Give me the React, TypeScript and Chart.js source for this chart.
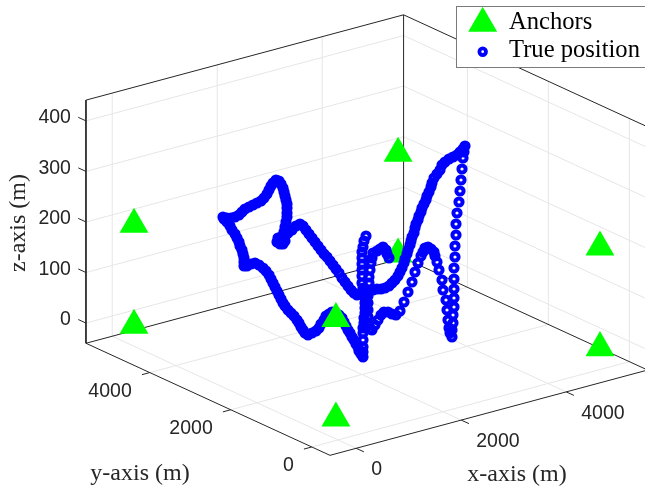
import { useEffect, useRef } from "react";
import { Chart, registerables } from "chart.js";

Chart.register(...registerables);

// Axis limits and ticks (metres)
const xLimits = [-500, 5550];
const yLimits = [-450, 5575];
const zLimits = [-40, 441];
const xTicks = [0, 2000, 4000];
const yTicks = [0, 2000, 4000];
const zTicks = [0, 100, 200, 300, 400];

// Anchors in metres
const anchorX = [-40, -40, 4990, 4990, 4990, 4990, -40, -40];
const anchorY = [4985, 4985, 4985, 4985, 0, 0, 0, 0];
const anchorZ = [204, 4, 204, 5, 202, 3, 4, 201];
const anchorBehindPath = 3;

const legendLabels = ["Anchors", "True position"];
const axisTitles = ["x-axis (m)", "y-axis (m)", "z-axis (m)"];

// True position, on the chart's view-plane scales
const truePosition: [number, number][] = [
  [278,238],[281,237],[284,238],[285,241],[283,244],[280,244],[277,242],[281,241],[279,240],[282,239],[280,242],[283,241],
  [285,236],[288,233],[292,230],[296,226],[300,224],[303,226],[306,230],[309,234],[312,238],[315,242],
  [318,246],[321,250],[324,254],[327,257],[330,261],[333,265],[336,269],[339,273],[342,278],[345,282],
  [348,286],[351,290],[354,293],[357,295],[361,294],[365,292],[369,291],[373,290],[377,289],[381,289],
  [385,288],[389,286],[392,283],[395,280],[398,276],[400,272],[402,268],[404,263],[405,259],[407,254],
  [408,250],[410,245],[411,241],[412,237],[414,233],[415,228],[416,224],[418,220],[419,216],[421,212],
  [422,208],[424,204],[426,200],[427,196],[429,192],[431,187],[432,183],[434,178],[437,174],[440,170],
  [442,165],[445,162],[449,159],[453,157],[457,155],[460,152],[463,149],[465,146],
  [464,152],[463,158],[462,169],[461,180],[460,191],[459,202],[457,213],[456,224],[456,235],[455,246],
  [455,257],[454,268],[454,279],[454,289],[454,298],[454,307],[453,315],[453,323],[452,330],[452,337],
  [450,333],[449,328],[448,320],[447,310],[446,300],[443,290],[442,280],[439,270],[437,262],[435,256],
  [434,252],[431,249],[428,247],[425,248],[423,252],[421,256],[418,263],[415,272],[412,282],[408,292],
  [404,302],[400,311],[396,315],[392,314],[388,312],[384,312],[381,315],[378,320],[375,325],[372,330],
  [370,329],[369,325],[368,317],[368,310],[368,303],[368,296],[368,290],[369,283],[369,277],[370,270],
  [371,263],[372,258],[373,253],[377,251],[380,249],[383,247],[386,250],[387,254],[389,258],
  [366,236],[364,241],[363,247],[362,252],[362,258],[362,264],[362,270],[362,276],[362,283],[363,288],
  [364,293],[365,298],[365,303],[365,308],[365,313],[364,318],[364,323],[363,328],[363,333],[363,340],
  [363,347],[363,352],[363,357],
  [361,354],[359,351],[358,347],[356,344],[354,340],[352,337],[350,333],[348,330],[346,326],[344,322],
  [342,318],[339,315],[336,313],[332,312],[329,314],[326,316],[324,320],[321,324],[319,328],[316,331],
  [312,333],[308,335],[305,333],[303,330],[301,327],[299,323],[297,320],[294,316],[291,313],[288,310],
  [285,306],[283,303],[281,299],[279,295],[277,291],[275,287],[273,283],[271,279],[269,275],[266,271],
  [263,268],[259,265],[255,263],[251,264],[247,266],[244,266],[244,262],[244,258],[243,254],[242,250],
  [240,246],[239,242],[237,238],[235,234],[232,230],[230,226],[227,222],[224,219],[223,217],[227,218],
  [231,218],[235,217],[239,215],[242,212],[245,209],[249,207],[253,205],[257,203],[261,201],[264,198],
  [267,194],[269,190],[271,186],[273,183],[276,180],[279,181],[281,184],[283,188],[284,192],[285,196],
  [286,200],[287,204],[287,208],[287,213],[287,217],[286,222],[285,227],[284,232],
];

const project = (x: number, y: number, z: number) => ({
  x: 338 + 0.0525 * x - 0.0405 * y,
  y: 419.7 - 0.0141 * x - 0.0186 * y - 0.5055 * z,
});

const GAP = { x: NaN, y: NaN };
const [x0, x1] = xLimits;
const [y0, y1] = yLimits;
const [z0, z1] = zLimits;

const gridPoints = [
  ...xTicks.flatMap((t) => [project(t, y0, z0), project(t, y1, z0), project(t, y1, z1), GAP]),
  ...yTicks.flatMap((t) => [project(x0, t, z0), project(x1, t, z0), project(x1, t, z1), GAP]),
  ...zTicks.flatMap((t) => [project(x0, y1, t), project(x1, y1, t), project(x1, y0, t), GAP]),
];

const boxPoints = [
  project(x0, y1, z1), project(x0, y1, z0), project(x0, y0, z0), project(x1, y0, z0), project(x1, y1, z0),
  project(x0, y1, z0), GAP,
  project(x1, y1, z0), project(x1, y1, z1), project(x0, y1, z1), GAP,
  project(x1, y1, z1), project(x1, y0, z1), GAP,
];

const tickPoints = [
  ...xTicks.flatMap((t) => [project(t, y0, z0), project(t, y0 - 190, z0), GAP]),
  ...yTicks.flatMap((t) => [project(x0, t, z0), project(x0 - 150, t, z0), GAP]),
  ...zTicks.flatMap((t) => [project(x0, y1, t), project(x0, y1 + 190, t), GAP]),
];

const anchorPoints = anchorX.map((x, i) => project(x, anchorY[i], anchorZ[i]));

const SANS = '"Liberation Sans", Arial, sans-serif';
const SERIF = '"Liberation Serif", "Times New Roman", serif';
const INK = "#262626";

const textPlugin = {
  id: "oblique-text",
  afterDatasetsDraw(chart: Chart) {
    const c = chart.ctx;
    c.save();
    c.fillStyle = INK;
    c.textBaseline = "middle";
    c.font = `19.5px ${SANS}`;
    c.textAlign = "left";
    xTicks.forEach((t) => {
      const p = project(t, y0, z0);
      c.fillText(String(t), p.x + 15, p.y + 21.5);
    });
    c.textAlign = "right";
    yTicks.forEach((t) => {
      const p = project(x0, t, z0);
      c.fillText(String(t), p.x - 18, p.y + 19);
    });
    zTicks.forEach((t) => {
      const p = project(x0, y1, t);
      c.fillText(String(t), p.x - 15, p.y - 3);
    });

    c.font = `24px ${SERIF}`;
    c.textAlign = "center";
    c.fillText(axisTitles[0], 517, 475);
    c.fillText(axisTitles[1], 140, 474);
    c.save();
    c.translate(19, 223);
    c.rotate(-Math.PI / 2);
    c.fillText(axisTitles[2], 0, 0);
    c.restore();

    // legend box
    c.fillStyle = "#ffffff";
    c.strokeStyle = "#7a7a7a";
    c.lineWidth = 1;
    c.fillRect(456.5, 6.5, 200, 61);
    c.strokeRect(456.5, 6.5, 200, 61);
    c.fillStyle = "#00ff00";
    c.beginPath();
    c.moveTo(482.7, 6.7);
    c.lineTo(497.2, 31.7);
    c.lineTo(468.2, 31.7);
    c.closePath();
    c.fill();
    c.strokeStyle = "#0000ff";
    c.lineWidth = 3.8;
    c.beginPath();
    c.arc(482.7, 51.7, 3.3, 0, Math.PI * 2);
    c.stroke();
    c.fillStyle = "#000000";
    c.font = `24.6px ${SERIF}`;
    c.textAlign = "left";
    c.fillText(legendLabels[0], 509, 22.5);
    c.fillText(legendLabels[1], 509, 51);
    c.restore();
  },
};

export default function App() {
  const ref = useRef<HTMLCanvasElement>(null);
  useEffect(() => {
    document.body.style.margin = "0";
    const triangle = {
      pointStyle: "triangle",
      pointRadius: 16.7,
      pointBackgroundColor: "#00ff00",
      pointBorderWidth: 0,
      showLine: false,
    };
    const chart = new Chart(ref.current!, {
      type: "scatter",
      data: {
        datasets: [
          { label: legendLabels[0], data: anchorPoints.filter((_, i) => i !== anchorBehindPath), order: 0, ...triangle },
          {
            label: legendLabels[1],
            data: truePosition.map(([x, y]) => ({ x, y })),
            order: 1,
            pointStyle: "circle",
            pointRadius: 3.6,
            pointBorderWidth: 4,
            pointBorderColor: "#0000ff",
            pointBackgroundColor: "rgba(0,0,0,0)",
            showLine: false,
          },
          { label: legendLabels[0], data: [anchorPoints[anchorBehindPath]], order: 2, ...triangle },
          { label: "box", data: boxPoints, order: 3, showLine: true, spanGaps: false, pointRadius: 0, borderColor: INK, borderWidth: 1 },
          { label: "ticks", data: tickPoints, order: 3, showLine: true, spanGaps: false, pointRadius: 0, borderColor: INK, borderWidth: 1 },
          { label: "grid", data: gridPoints, order: 4, showLine: true, spanGaps: false, pointRadius: 0, borderColor: "#e6e6e6", borderWidth: 1 },
        ],
      } as any,
      options: {
        animation: false,
        responsive: false,
        maintainAspectRatio: false,
        layout: { padding: 0, autoPadding: false },
        scales: {
          x: { type: "linear", min: 0, max: 645, display: false },
          y: { type: "linear", min: 0, max: 490, reverse: true, display: false },
        },
        plugins: { legend: { display: false }, tooltip: { enabled: false } },
      },
      plugins: [textPlugin],
    });
    return () => chart.destroy();
  }, []);
  return (
    <div style={{ width: 645, height: 490, background: "#fff" }}>
      <canvas ref={ref} width={645} height={490} style={{ display: "block" }} />
    </div>
  );
}
